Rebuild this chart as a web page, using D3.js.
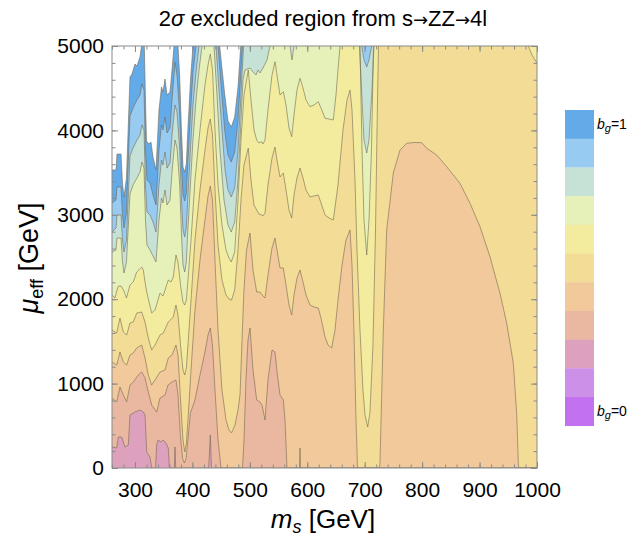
<!DOCTYPE html>
<html><head><meta charset="utf-8">
<script src="https://cdn.jsdelivr.net/npm/d3@7"></script>
<style>
body{margin:0;background:#fff}
svg{display:block}
text{font-family:"Liberation Sans",Arial,Helvetica,sans-serif;fill:#000}
</style></head>
<body><svg id="c" width="630" height="537"></svg>
<script>
// ---------- data: contour boundaries mu_eff(m_s) in GeV ----------
// values above 5000 mean "off the top of the chart", 0 means "at the bottom"
const msDomain = [260, 1000];
const muDomain = [0, 5000];

// white (no b_g) / b_g≈1 (dark blue)
const bWhiteBlue = [[260,3531],[267,3531],[268.7,3720],[275.7,3720],[278.3,3365],[280.9,3211],[285.2,3436],[291.3,4633],[294.8,4668],[300,4787],[303.5,4763],[308.8,4870],[311.4,5000],[313.1,5190],[315.7,5190],[318.3,4360],[320.1,3874],[324.4,3839],[327.9,3862],[331.4,3685],[336.6,3531],[341.8,4242],[346.2,4514],[348.8,4455],[352.3,4609],[355.8,4419],[361,4455],[364.5,4716],[368,5000],[369.7,5190],[373.2,5190],[374.9,5000],[377.9,4633],[380.7,4040],[383.6,3566],[386.6,3507],[389.4,3602],[392.3,4040],[397,4633],[401,5000],[402.8,5190],[446.3,5190],[447.5,5000],[456.2,4431],[462,4111],[467.7,4040],[473.6,4159],[479.4,4514],[484.1,5000],[485.5,5190],[1000,5190]];
// dark blue / light blue
const bBlueLight = [[260,3140],[267,3175],[268.7,3329],[275.7,3329],[278.3,2998],[280.9,2844],[285.2,3033],[291.3,4171],[296.6,4265],[303.5,4360],[308.8,4419],[312.2,4550],[315.7,4479],[318.3,3768],[320.9,3412],[326.2,3377],[331.4,3234],[336.6,3116],[341.8,3768],[346.2,4064],[348.8,4005],[352.3,4159],[355.8,3969],[361,4028],[364.5,4360],[369.7,4810],[373.2,4656],[377.9,4182],[381,3590],[383.6,3234],[386.6,3163],[389.4,3258],[392.3,3649],[397,4242],[401,4692],[406.3,5000],[408,5190],[442.8,5190],[444.6,5000],[449.8,4538],[456.2,4005],[462,3708],[467.7,3625],[473.6,3744],[479.4,4123],[484.6,4716],[487.2,5000],[489,5190],[1000,5190]];
// light blue / teal
const bLightTeal = [[260,2796],[267,2844],[268.7,2998],[275.7,2998],[278.3,2701],[280.9,2559],[285.2,2701],[291.3,3697],[296.6,3791],[303.5,3886],[308.8,3945],[312.2,4064],[315.7,4005],[318.3,3353],[320.9,3033],[326.2,2998],[331.4,2915],[336.6,2796],[341.8,3353],[346.2,3649],[348.8,3590],[352.3,3744],[355.8,3554],[361,3614],[364.5,3945],[369.7,4301],[373.2,4218],[377.9,3768],[381,3175],[383.6,2820],[386.6,2737],[389.4,2844],[392.3,3234],[397,3827],[401,4301],[406.3,4692],[411.5,5000],[413.2,5190],[439.3,5190],[441.1,5000],[446.3,4479],[451.5,4005],[456.8,3531],[462,3294],[467.7,3211],[473.6,3317],[479.4,3768],[484.6,4419],[489,5000],[490.7,5190],[691.8,5190],[694.8,5000],[698.8,4834],[703.5,4751],[707.5,4834],[712.2,5000],[714.5,5190],[1000,5190]];
// teal / yellow-green
const bTealGreen = [[260,2559],[267,2583],[268.7,2725],[275.7,2725],[278.3,2441],[280.9,2310],[285.2,2441],[291.3,3246],[296.6,3353],[303.5,3436],[308.8,3507],[312.2,3625],[315.7,3554],[318.3,2938],[320.9,2642],[326.2,2583],[331.4,2512],[336.6,2441],[341.8,2938],[346.2,3199],[348.8,3140],[352.3,3294],[355.8,3116],[361,3175],[364.5,3507],[369.7,3886],[373.2,3791],[377.9,3353],[381,2761],[383.6,2405],[386.6,2322],[389.4,2441],[392.3,2844],[397,3412],[401,3886],[406.3,4360],[411.5,4716],[416.7,5000],[418.5,5190],[435.9,5190],[437.6,5000],[442.8,4419],[448,3768],[455,3175],[462,2879],[467.7,2796],[473.6,2915],[479.4,3412],[484.6,4123],[488.1,4597],[491.6,4716],[500.3,4739],[505.5,4692],[510.7,4656],[514.2,4716],[517.7,4680],[522.9,4739],[529.9,4834],[535.1,5000],[536.8,5190],[568.2,5190],[569.9,5000],[573.4,4834],[576.9,5000],[578.6,5190],[688.3,5190],[690.9,5000],[695.3,4360],[698.8,3886],[703.5,3732],[707.5,3886],[712.7,4479],[716.2,5000],[717.9,5190],[1000,5190]];
// yellow-green / yellow
const bGreenYellow = [[260,2050],[265.2,2014],[268.7,2109],[271.3,2156],[275.7,2156],[280,2109],[285.2,2014],[291.3,2168],[297.1,2204],[303,2322],[311.7,2381],[314.5,2346],[317.5,2204],[320.4,2085],[329.1,1836],[334.9,1872],[343.6,2073],[348.8,2038],[352.3,2109],[358,2227],[362.7,2204],[366.7,2263],[371.4,2524],[374.9,2441],[379.3,2168],[383.6,1967],[386.6,1931],[389.4,1990],[392.3,2227],[397.6,2701],[404.5,3412],[413.2,4005],[421.9,4538],[427.2,4775],[431.2,4905],[435,4716],[439.3,4005],[444.6,3353],[451.5,2879],[458.5,2583],[463.7,2488],[467.7,2441],[473.6,2559],[479.4,3175],[484.6,3886],[489.8,4419],[497.3,4716],[502,4360],[507.2,4005],[511.9,3886],[515.9,3851],[520.6,3866],[522.9,3839],[526.4,3886],[531.6,4242],[538.6,4656],[543.8,4814],[547.3,4656],[552.5,4419],[558.3,4459],[563,4301],[568.2,4028],[572.9,3925],[576.9,4182],[582.1,4479],[587.3,4618],[592.6,4502],[597.8,4360],[604.8,4281],[611.7,4301],[619.2,4340],[623.9,4265],[630.9,4143],[637.9,4135],[645.3,4123],[650,4419],[653.5,4716],[657,4992],[658.7,5190],[689.2,5190],[691.8,5000],[695.3,3768],[698.8,2938],[703.5,2524],[707.5,2938],[711.8,3768],[715.3,5000],[717.1,5190],[1000,5190]];
// yellow / orange-yellow
const bYellowOrange = [[260,1635],[268.2,1599],[273.9,1777],[279.7,1611],[285.6,1576],[291.3,1718],[297.1,1730],[303,1836],[311.7,1848],[317.5,1730],[323.2,1540],[329.1,1398],[334.9,1457],[343.6,1576],[349.3,1599],[358,1730],[366.7,1789],[371.4,1931],[374.9,1813],[379.3,1457],[383.6,1161],[386.6,1102],[389.4,1185],[392.3,1457],[397.6,1990],[404.5,2701],[413.2,3294],[421.9,3768],[427.2,4028],[431.2,4135],[435,3945],[439.3,3294],[444.6,2642],[451.5,2227],[458.5,2050],[463.7,2002],[468.1,1990],[473.6,2109],[479.4,2583],[484.6,3175],[489.8,3590],[497.3,3791],[502,3412],[507.2,3116],[511.9,3057],[515.9,3009],[520.6,2998],[522.9,2986],[526.4,3021],[531.6,3353],[538.6,3673],[543.8,3803],[547.3,3649],[552.5,3448],[558.3,3495],[563,3294],[568.2,3057],[572.9,2962],[576.9,3234],[582.1,3436],[587.3,3554],[592.6,3436],[597.8,3294],[604.8,3211],[611.7,3223],[619.2,3234],[623.9,3140],[630.9,2998],[637.9,2962],[645.3,2938],[653.5,3353],[662.2,4005],[669.2,4360],[674.4,4479],[677.9,4242],[683.1,3412],[686.6,2583],[691.8,1635],[697,924],[700.5,628],[705.2,486],[709.2,663],[714.4,1457],[718.8,2820],[722.3,4360],[724,5000],[725.8,5190],[982.6,5190],[984.9,5000],[991.3,4893],[1000,4798]];
// orange-yellow / peach
const bOrangePeach = [[260,1256],[268.2,1220],[273.9,1374],[279.7,1256],[285.6,1220],[291.3,1339],[297.1,1363],[303,1422],[311.7,1457],[317.5,1303],[323.2,1102],[329.1,983],[334.9,1043],[343.6,1137],[352.3,1161],[358,1303],[364.5,1339],[371.4,1457],[374.9,1339],[379.3,806],[383.6,332],[386.6,190],[389.4,284],[392.3,569],[397.6,1161],[404.5,1872],[413.2,2464],[421.9,2938],[427.2,3223],[431.2,3341],[435,3175],[439.3,2464],[444.6,1635],[451.5,924],[458.5,569],[463.7,450],[468.1,415],[474.2,509],[479.4,687],[482.9,865],[486.4,1517],[489.8,2109],[494.2,2583],[500.3,2784],[505.5,2346],[511.9,2085],[517.7,2085],[522.9,2038],[526.4,2014],[531.6,2287],[538.6,2607],[543.8,2725],[547.3,2583],[552.5,2370],[558.3,2370],[563,2168],[568.2,1931],[572.9,1813],[576.9,2050],[582.1,2251],[587.3,2346],[592.6,2204],[597.8,2050],[604.8,1931],[611.7,1908],[619.2,1896],[623.9,1777],[630.9,1552],[636.1,1457],[642.5,1422],[648.3,1635],[653.5,1990],[660.5,2405],[667.4,2701],[674.4,2820],[677.9,2405],[681.4,1576],[684.9,569],[687.5,0],[725.8,0],[726.6,55],[732.4,1635],[738.3,2820],[749.8,3495],[761.5,3768],[773.1,3847],[786,3857],[799.2,3855],[808,3788],[825.4,3708],[842.8,3570],[865.9,3373],[883.4,3136],[900.8,2859],[918.2,2503],[935.6,2069],[947.3,1714],[958.8,1240],[964.6,648],[967.5,55],[968.2,0],[1000,0]];
// peach / salmon
const bPeachSalmon = [[260,829],[268.2,782],[273.9,960],[279.7,865],[285.6,782],[291.3,983],[297.1,1019],[305.8,1102],[311.7,1137],[317.5,1066],[323.2,900],[329.1,746],[337.8,663],[343.6,829],[352.3,865],[357.5,983],[364.5,1019],[371.4,1043],[374.9,865],[379.3,360],[383,110],[386,60],[389,110],[392.5,360],[396.5,650],[404.5,806],[413.2,1102],[421.9,1374],[427.2,1576],[431.2,1659],[435,1457],[439.3,924],[444.6,332],[449.8,0],[487.2,0],[489.8,332],[493.3,1043],[496.8,1517],[500.3,1659],[505.5,1161],[511.9,806],[517.7,782],[521.2,746],[526.4,569],[531.6,1043],[538.6,1398],[543.8,1374],[547.3,1137],[552.5,865],[558.3,806],[561.2,569],[564.7,0],[586.5,0],[587.3,237],[588.2,0],[1000,0]];
// salmon / pink
const bSalmonPink = [[260,249],[268.2,237],[271,367],[276.9,367],[282.6,249],[288.4,273],[291.3,628],[300,663],[308.8,687],[314.5,663],[317.5,628],[320.4,190],[326.2,130],[329.1,0],[335.7,0],[337.8,273],[340.1,332],[345.3,308],[348.8,332],[354,296],[358,237],[360.1,0],[368.5,0],[369.7,249],[370.9,0],[428.3,0],[431.2,391],[433.2,0],[1000,0]];

const boundaries = [bWhiteBlue, bBlueLight, bLightTeal, bTealGreen, bGreenYellow, bYellowOrange, bOrangePeach, bPeachSalmon, bSalmonPink];
// colour of the band just below each boundary
const bandColors = ["#63aae8","#97cbf1","#c6e2d6","#e6f1b9","#f3ec9e","#f3dc95","#f1c99a","#eab8a0","#dda1be"];
// legend (b_g = 1 at top, b_g = 0 at bottom)
const legendColors = ["#63aae8","#97cbf1","#c6e2d6","#e6f1b9","#f3ec9e","#f3dc95","#f1c99a","#eab8a0","#dda1be","#cc90e9","#c272ef"];
const xMajor = [300,400,500,600,700,800,900,1000];
const yMajor = [0,1000,2000,3000,4000,5000];
const xMinor = d3.range(260, 1001, 20);
const yMinor = d3.range(0, 5001, 200);

// ---------- drawing ----------
const svg = d3.select("#c");
const L = 112, R = 537, T = 46, B = 468;
const x = d3.scaleLinear().domain(msDomain).range([L, R]);
const y = d3.scaleLinear().domain(muDomain).range([B, T]);

svg.append("clipPath").attr("id","clip").append("rect")
  .attr("x",L).attr("y",T).attr("width",R-L).attr("height",B-T);
const g = svg.append("g").attr("clip-path","url(#clip)");
g.append("rect").attr("x",L).attr("y",T).attr("width",R-L).attr("height",B-T).attr("fill","#fff");

const area = d3.area().x(d=>x(d[0])).y0(y(0)).y1(d=>y(d[1]));
const line = d3.line().x(d=>x(d[0])).y(d=>y(d[1]));
boundaries.forEach((b,i)=>{
  g.append("path").attr("d",area(b)).attr("fill",bandColors[i]);
});
boundaries.forEach(b=>{
  g.append("path").attr("d",line(b)).attr("fill","none")
   .attr("stroke","#6f6650").attr("stroke-opacity",0.72).attr("stroke-width",0.8)
   .attr("stroke-linejoin","round");
});

// frame + ticks
const frameCol = "#8a8a8a";
function axis(gen, scale, vals, size, labels, tr){
  const a = gen(scale).tickValues(vals).tickSizeInner(size).tickSizeOuter(0).tickPadding(labels?7:0);
  a.tickFormat(labels ? d3.format("d") : "");
  const ag = svg.append("g").attr("transform",tr).call(a);
  ag.select(".domain").remove();
  ag.selectAll("line").attr("stroke",frameCol);
  return ag;
}
axis(d3.axisBottom, x, xMinor, -3.5, false, `translate(0,${B})`);
axis(d3.axisTop, x, xMinor, -3.5, false, `translate(0,${T})`);
axis(d3.axisLeft, y, yMinor, -3.5, false, `translate(${L},0)`);
axis(d3.axisRight, y, yMinor, -3.5, false, `translate(${R},0)`);
axis(d3.axisTop, x, xMajor, -6, false, `translate(0,${T})`);
axis(d3.axisRight, y, yMajor, -6, false, `translate(${R},0)`);
const xb = axis(d3.axisBottom, x, xMajor, -6, true, `translate(0,${B})`);
xb.selectAll("text").attr("font-size",21).attr("y",14).attr("fill","#000");
const yl = axis(d3.axisLeft, y, yMajor, -6, true, `translate(${L},0)`);
yl.selectAll("text").attr("font-size",21).attr("x",-8).attr("fill","#000");
svg.selectAll(".tick text").attr("font-family",'"Liberation Sans",Arial,sans-serif');

svg.append("rect").attr("x",L).attr("y",T).attr("width",R-L).attr("height",B-T)
  .attr("fill","none").attr("stroke",frameCol).attr("stroke-width",1);

// title
const t = svg.append("text").attr("x",323).attr("y",26).attr("text-anchor","middle").attr("font-size",22);
t.append("tspan").text("2");
t.append("tspan").attr("font-style","italic").text("σ");
t.append("tspan").text(" excluded region from s");
t.append("tspan").attr("font-family","DejaVu Sans").attr("font-size",18).text("→");
t.append("tspan").text("ZZ");
t.append("tspan").attr("font-family","DejaVu Sans").attr("font-size",18).text("→");
t.append("tspan").text("4l");

// x label
const xlab = svg.append("text").attr("x",323).attr("y",528).attr("text-anchor","middle").attr("font-size",26);
xlab.append("tspan").attr("font-style","italic").text("m");
xlab.append("tspan").attr("font-style","italic").attr("font-size",18).attr("dy",5).text("s");
xlab.append("tspan").attr("dy",-5).text(" [GeV]");

// y label
const ylab = svg.append("text").attr("transform","translate(38,258) rotate(-90)").attr("text-anchor","middle").attr("font-size",27);
ylab.append("tspan").attr("font-style","italic").text("μ");
ylab.append("tspan").attr("font-size",18).attr("dy",5).text("eff");
ylab.append("tspan").attr("dy",-5).text(" [GeV]");

// legend
const lgTop = 110, lgH = 28.7, lgX = 565, lgW = 29;
legendColors.forEach((c,i)=>{
  svg.append("rect").attr("x",lgX).attr("y",lgTop+i*lgH).attr("width",lgW).attr("height",lgH+0.3).attr("fill",c);
});
function lgLabel(val, yy){
  const tt = svg.append("text").attr("x",lgX+lgW+3).attr("y",yy).attr("font-size",14);
  tt.append("tspan").attr("font-style","italic").text("b");
  tt.append("tspan").attr("font-style","italic").attr("font-size",11).attr("dy",3).text("g");
  tt.append("tspan").attr("dy",-3).text("=" + val);
}
lgLabel(1, lgTop + lgH*0.5 + 5);
lgLabel(0, lgTop + lgH*10.5 + 5);
</script>
</body></html>
